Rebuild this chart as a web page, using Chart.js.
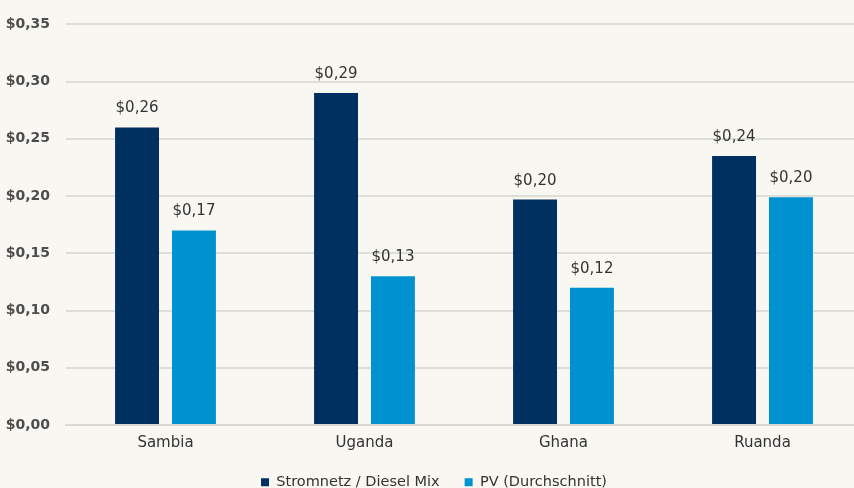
<!DOCTYPE html>
<html>
<head>
<meta charset="utf-8">
<script src="https://cdn.jsdelivr.net/npm/chart.js@4"></script>
<style>
  html, body { margin: 0; padding: 0; background: #f8f7f1; overflow: hidden; }
  #wrap { width: 862px; height: 488px; }
</style>
</head>
<body>
<div id="wrap"><canvas id="myChart"></canvas></div>
<script>
// data
const countries = ['Sambia', 'Uganda', 'Ghana', 'Ruanda']
const gridValues = [0.26, 0.29, 0.197, 0.235]
const pvValues = [0.17, 0.13, 0.12, 0.199]
const seriesNames = ['Stromnetz / Diesel Mix', 'PV (Durchschnitt)']

const fontFamily = "'DejaVu Sans', sans-serif"

const euro = (v) => '$' + v.toFixed(2).replace('.', ',')

//draw value labels above the bars
const valueLabels = {
    id: 'valueLabels',
    afterDatasetsDraw(chart) {
        const ctx = chart.ctx
        ctx.save()
        ctx.font = '15px ' + fontFamily
        ctx.fillStyle = '#333333'
        ctx.textAlign = 'center'
        ctx.textBaseline = 'alphabetic'
        chart.data.datasets.forEach((ds, i) => {
            chart.getDatasetMeta(i).data.forEach((bar, j) => {
                ctx.fillText(euro(Math.round(ds.data[j] * 100) / 100), bar.x, bar.y - 15)
            })
        })
        ctx.restore()
    }
}

const config = {
    type: 'bar',
    data: {
        labels: countries,
        datasets: [{
            label: seriesNames[0],
            backgroundColor: '#00305f',
            data: gridValues
        }, {
            label: seriesNames[1],
            backgroundColor: '#0092d0',
            data: pvValues
        }]
    },
    options: {
        responsive: true,
        maintainAspectRatio: false,
        animation: false,
        layout: { padding: { top: 16, left: 6, right: 0, bottom: 0 } },
        datasets: {
            bar: { categoryPercentage: 0.572, barPercentage: 0.772 }
        },
        plugins: {
            legend: {
                position: 'bottom',
                maxHeight: 38,
                labels: {
                    boxWidth: 8,
                    boxHeight: 8,
                    color: '#333333',
                    font: { family: fontFamily, size: 14.5 },
                    padding: 25
                }
            },
            tooltip: { enabled: false }
        },
        scales: {
            x: {
                grid: { display: false, drawTicks: false, tickLength: 0 },
                border: { color: '#d9d9d6', width: 2 },
                ticks: { color: '#333333', font: { family: fontFamily, size: 15 }, padding: 9 },
                afterFit: (scale) => { scale.height = 25 }
            },
            y: {
                min: 0,
                max: 0.35,
                grid: { color: '#deded9', lineWidth: 2, drawTicks: false },
                border: { display: false },
                ticks: {
                    stepSize: 0.05,
                    color: '#4d4d4d',
                    padding: 16,
                    font: { family: fontFamily, size: 14, weight: 'bold' },
                    callback: (v) => euro(v)
                },
                afterFit: (scale) => { scale.width = 60 }
            }
        }
    },
    plugins: [valueLabels]
}

document.addEventListener('DOMContentLoaded', () => {
    new Chart(document.querySelector('#myChart'), config)
})
</script>
</body>
</html>
